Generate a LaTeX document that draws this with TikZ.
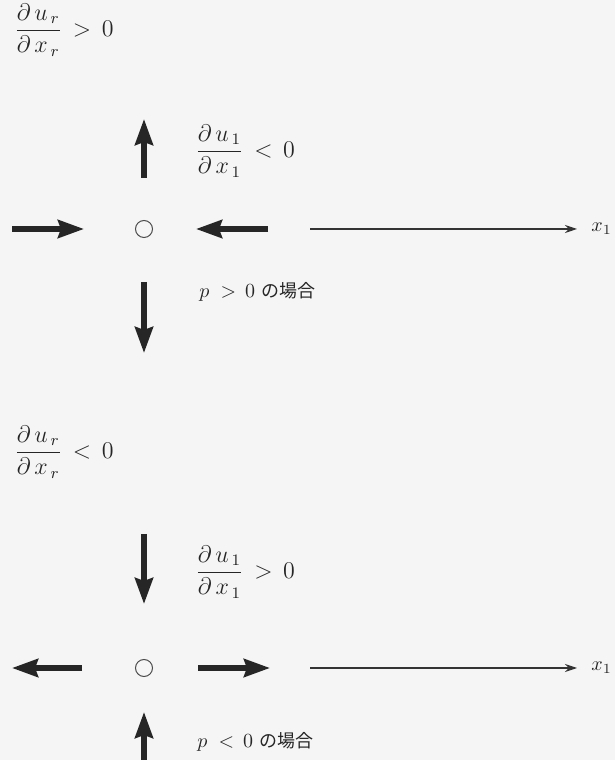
\documentclass[tikz,border=0pt]{standalone}
\usepackage{amsmath,amssymb}
\usepackage{fontspec}
\newfontfamily\jpfont{Noto Sans CJK JP}
\usetikzlibrary{arrows.meta}
\usetikzlibrary{positioning}

\tikzset{
	flow/.style={line width=2.7pt, draw=black!85,
		-{Stealth[length=13pt, width=9pt, inset=1.5pt]}},
	axis/.style={line width=0.6pt, draw=black!80,
		-{Stealth[length=6pt, width=4pt]}},
	particle/.style={draw=black!70, line width=0.5pt, circle,
		minimum size=8.5pt, inner sep=0pt},
	lab/.style={anchor=west, inner sep=0pt, text=black!85, font=\large}
}

\begin{document}
\begin{tikzpicture}[x=0.5pt, y=0.5pt]
	\fill[black!4] (0,0) rectangle (615,760);
	\useasboundingbox (0,0) rectangle (615,760);

	%Case p > 0
	\node[lab] (divA) at (14,730) {$\dfrac{\partial\,u_{\,r}}{\partial\,x_{\,r}}\, > \,0$};
	\node[particle] (pA) at (144,531) {};
	\coordinate (upA1) at (144,582);
	\coordinate (upA2) at (144,641);
	\coordinate (dnA1) at (144,478);
	\coordinate (dnA2) at (144,407);
	\coordinate (lfA1) at (12,531);
	\coordinate (lfA2) at (84,531);
	\coordinate (rtA1) at (268,531);
	\coordinate (rtA2) at (196,531);
	\coordinate (axA1) at (310,531);
	\coordinate (axA2) at (577,531);
	\draw[flow] (upA1) -- (upA2);
	\draw[flow] (dnA1) -- (dnA2);
	\draw[flow] (lfA1) -- (lfA2);
	\draw[flow] (rtA1) -- (rtA2);
	\draw[axis] (axA1) -- (axA2);
	\node[lab, font=\normalsize, right=7pt of axA2] (xA) {$x_1$};
	\node[lab] (gradA) at (195,609) {$\dfrac{\partial\,u_{\,1}}{\partial\,x_{\,1}}\, < \,0$};
	\node[lab, font=\normalsize] (caseA) at (199,468) {$p\; > \,0$ {\jpfont\small の場合}};

	%Case p < 0
	\node[lab] (divB) at (14,308) {$\dfrac{\partial\,u_{\,r}}{\partial\,x_{\,r}}\, < \,0$};
	\node[particle] (pB) at (144,92) {};
	\coordinate (dnB1) at (144,226);
	\coordinate (dnB2) at (144,156);
	\coordinate (upB1) at (144,0);
	\coordinate (upB2) at (144,48);
	\coordinate (lfB1) at (82,92);
	\coordinate (lfB2) at (12,92);
	\coordinate (rtB1) at (198,92);
	\coordinate (rtB2) at (270,92);
	\coordinate (axB1) at (310,92);
	\coordinate (axB2) at (577,92);
	\draw[flow] (dnB1) -- (dnB2);
	\draw[flow] (upB1) -- (upB2);
	\draw[flow] (lfB1) -- (lfB2);
	\draw[flow] (rtB1) -- (rtB2);
	\draw[axis] (axB1) -- (axB2);
	\node[lab, font=\normalsize, right=7pt of axB2] (xB) {$x_1$};
	\node[lab] (gradB) at (195,188) {$\dfrac{\partial\,u_{\,1}}{\partial\,x_{\,1}}\, > \,0$};
	\node[lab, font=\normalsize] (caseB) at (197,18) {$p\; < \,0$ {\jpfont\small の場合}};
\end{tikzpicture}
\end{document}
